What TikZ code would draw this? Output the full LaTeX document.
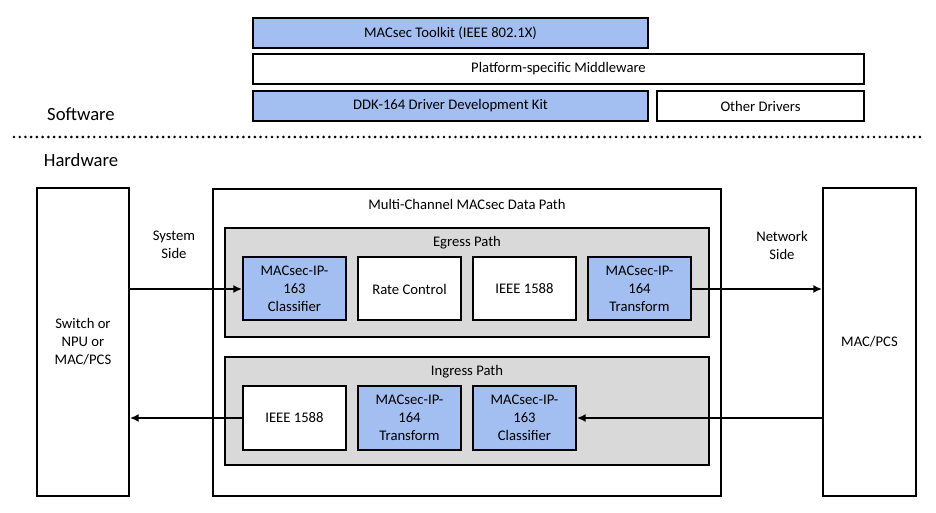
\documentclass[tikz,border=0pt]{standalone}
\usepackage{xcolor}
\usepackage{fontspec}
\setmainfont{Carlito}
\usepackage{tikz}
\usetikzlibrary{calc,arrows.meta}
\definecolor{ipblue}{RGB}{163,190,240}
\definecolor{pathgray}{RGB}{217,217,217}
\tikzset{>={Latex[length=6.5pt,width=6pt]},
  blk/.style={draw,line width=1.5pt,inner sep=0pt,align=center,font=\fontsize{11}{13.5}\selectfont},
  swbox/.style={blk,minimum height=22.5pt},
  ipbox/.style={blk,minimum width=77.25pt,minimum height=47.25pt},
  pathbox/.style={blk,fill=pathgray,minimum width=363pt},
  lbl/.style={align=center,font=\fontsize{11}{13.5}\selectfont},
  layer/.style={font=\fontsize{14}{16}\selectfont},
  flow/.style={->,line width=1.2pt}}

\begin{document}
\begin{tikzpicture}[x=0.75pt,y=-0.75pt]
    \useasboundingbox (0,0) rectangle (936,513);
    \node[swbox,fill=ipblue,minimum width=296.25pt] (toolkit) at (450.5,33) {MACsec Toolkit (IEEE 802.1X)};
    \node[swbox,fill=white,minimum width=458.25pt] (middleware) at (558.5,69) {Platform-specific Middleware};
    \node[swbox,fill=ipblue,minimum width=296.25pt] (ddk) at (450.5,106) {DDK-164 Driver Development Kit};
    \node[swbox,fill=white,minimum width=155.25pt] (other) at (760.5,106) {Other Drivers};
    \node[layer] (sw) at (81,114) {Software};
    \node[layer] (hw) at (81,160) {Hardware};
    \draw[line width=2.2pt,line cap=round,dash pattern=on 0pt off 4.3pt] (14,137) -- (925,137);
    \node[blk,minimum width=69pt,minimum height=231pt] (host) at (83,342) {Switch or\\NPU or\\MAC/PCS};
    \node[blk,minimum width=69.75pt,minimum height=231pt] (mac) at (869.5,342) {MAC/PCS};
    \node[blk,minimum width=381pt,minimum height=230.25pt] (datapath) at (467,342.5) {};
    \node[lbl] (dptitle) at (467,204) {Multi-Channel MACsec Data Path};
    \node[pathbox,minimum height=81.75pt] (egress) at (467,282.5) {};
    \node[lbl] (egtitle) at (467,243) {Egress Path};
    \node[pathbox,minimum height=81pt] (ingress) at (467,411) {};
    \node[lbl] (ingtitle) at (467,372) {Ingress Path};
    \node[ipbox,fill=ipblue] (eclass) at (294.5,289) {MACsec-IP-\\163\\Classifier};
    \node[ipbox,fill=white] (rate) at (409.5,289) {Rate Control};
    \node[ipbox,fill=white] (eptp) at (524.5,289) {IEEE 1588};
    \node[ipbox,fill=ipblue] (etrans) at (639.5,289) {MACsec-IP-\\164\\Transform};
    \node[ipbox,fill=white] (iptp) at (294.5,418) {IEEE 1588};
    \node[ipbox,fill=ipblue] (itrans) at (409.5,418) {MACsec-IP-\\164\\Transform};
    \node[ipbox,fill=ipblue] (iclass) at (524.5,418) {MACsec-IP-\\163\\Classifier};
    \node[lbl] (sysside) at (174,245) {System\\Side};
    \node[lbl] (netside) at (782,245) {Network\\Side};
    \draw[flow] (host.east |- eclass) -- (eclass);
    \draw[flow] (etrans) -- (mac.west |- etrans);
    \draw[flow] (mac.west |- iclass) -- (iclass);
    \draw[flow] (iptp) -- (host.east |- iptp);
\end{tikzpicture}
\end{document}
